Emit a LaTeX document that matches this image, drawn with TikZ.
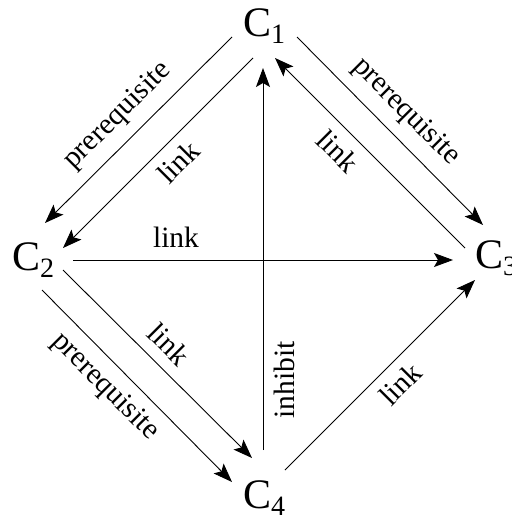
\documentclass[tikz,border=0pt]{standalone}
\usepackage{fontspec}
\setmainfont{Liberation Serif}
\usetikzlibrary{arrows.meta}
\newcommand{\bigCfont}{\fontsize{42}{42}\selectfont}
\newcommand{\subCfont}{\fontsize{28}{28}\selectfont}
\newcommand{\lblfont}{\fontsize{29.5}{29.5}\selectfont}
\tikzset{
  concept/.style={anchor=base west, inner sep=0pt, font=\bigCfont},
  edgelbl/.style={inner sep=0pt, font=\lblfont},
  conn/.style={line width=0.9pt, -{Stealth[length=19pt,width=14pt,inset=4pt]}}
}
\newcommand{\Csub}[1]{C\raisebox{-7pt}{\subCfont #1}}
\begin{document}
\begin{tikzpicture}[x=1pt,y=-1pt]
\useasboundingbox (0,0) rectangle (511,519);
\node[concept] (C1) at (243,37) {\Csub{1}};
\node[concept] (C2) at (12,270) {\Csub{2}};
\node[concept] (C3) at (475,268) {\Csub{3}};
\node[concept] (C4) at (243,508) {\Csub{4}};
% C1 -> C2
\draw[conn] ([shift={(-11,0)}]C1.base west) -- ([shift={(33,-47)}]C2.base west);
\draw[conn] ([shift={(10,21)}]C1.base west) -- ([shift={(51,-22)}]C2.base west);
% C3 -> C1
\draw[conn] ([shift={(-10,-20)}]C3.base west) -- ([shift={(32,21)}]C1.base west);
% C1 -> C3
\draw[conn] ([shift={(54,0)}]C1.base west) -- ([shift={(8,-43)}]C3.base west);
% C2 -> C3
\draw[conn] ([shift={(61,-10)}]C2.base west) -- ([shift={(-22,-8)}]C3.base west);
% C2 -> C4
\draw[conn] ([shift={(51,0)}]C2.base west) -- ([shift={(9,-50)}]C4.base west);
\draw[conn] ([shift={(30,20)}]C2.base west) -- ([shift={(-11,-26)}]C4.base west);
% C4 -> C1
\draw[conn] ([shift={(20,-58)}]C4.base west) -- ([shift={(20,31)}]C1.base west);
% C4 -> C3
\draw[conn] ([shift={(42,-38)}]C4.base west) -- ([shift={(0,12)}]C3.base west);
% labels
\node[edgelbl, rotate=45] (l12a) at (118,116) {prerequisite};
\node[edgelbl, rotate=45] (l12b) at (178,162) {link};
\node[edgelbl] (l23) at (176,237) {link};
\node[edgelbl, rotate=-45] (l31) at (338,151) {link};
\node[edgelbl, rotate=-45] (l13) at (406,112) {prerequisite};
\node[edgelbl, rotate=-45] (l24a) at (169,344) {link};
\node[edgelbl, rotate=-45] (l24b) at (105,387) {prerequisite};
\node[edgelbl, rotate=90] (l41) at (284,380) {inhibit};
\node[edgelbl, rotate=45] (l43) at (400,384) {link};
\end{tikzpicture}
\end{document}
